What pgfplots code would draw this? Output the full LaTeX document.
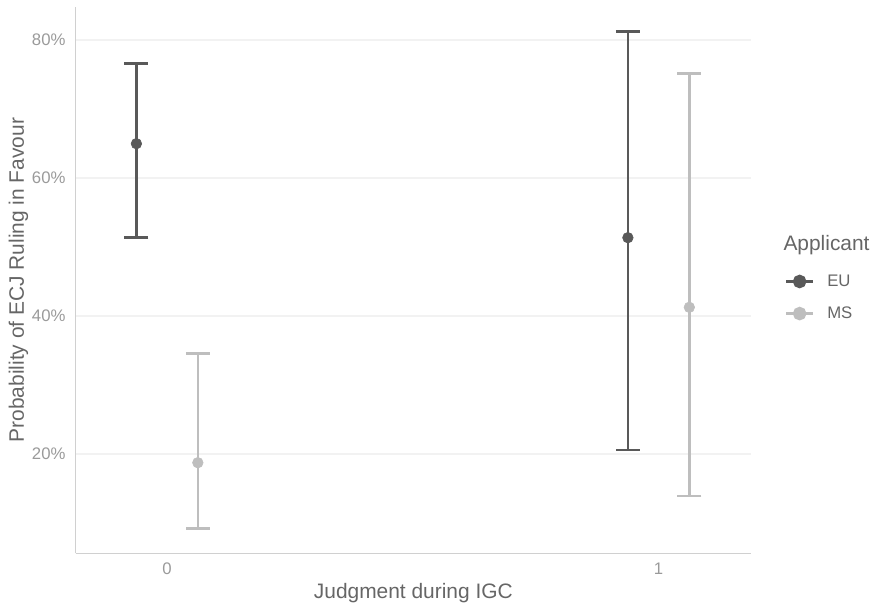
\documentclass[border=0pt]{standalone}
\usepackage{pgfplots}
\pgfplotsset{compat=1.18}
\usepackage{fontspec}
\setmainfont{Liberation Sans}
\definecolor{eucol}{HTML}{595959}
\definecolor{mscol}{HTML}{BEBEBE}
\definecolor{tickcol}{HTML}{9A9A9A}
\definecolor{titlecol}{HTML}{666666}
\definecolor{gridcol}{HTML}{F2F2F2}
\definecolor{axiscol}{HTML}{D0D0D0}
\begin{document}
\begin{tikzpicture}
\useasboundingbox (-75.7bp,-52.7bp) rectangle (798.3bp,553.3bp);
\begin{axis}[
  at={(0,0)}, anchor=south west, scale only axis,
  width=675.3bp, height=546.3bp,
  xmin=-0.186, xmax=1.188, ymin=5.61, ymax=84.78,
  axis x line*=bottom, axis y line*=left,
  axis line style={draw=axiscol, line width=1.2bp},
  major tick length=0pt,
  xtick={0,1}, xticklabels={0,1},
  ytick={20,40,60,80}, yticklabels={20\%,40\%,60\%,80\%},
  ymajorgrids, grid style={draw=gridcol, line width=1.1bp},
  tick label style={font=\fontsize{16.8}{20}\selectfont, text=tickcol, inner sep=0pt},
  yticklabel style={anchor=east, xshift=-10bp},
  xticklabel style={anchor=north, yshift=-9.7bp},
  legend style={draw=none, fill=none, inner sep=0pt, outer sep=0pt,
    at={(1.05034,0.510)}, anchor=north west,
    font=\fontsize{16.8}{20}\selectfont, text=titlecol,
    nodes={inner sep=0pt}, column sep=13bp, row sep=18.5bp},
  legend cell align=left,
]
\addplot[only marks, mark=*, mark size=5.3bp, color=eucol, line width=2.6bp,
  mark options={line width=0.6bp},
  legend image code/.code={\draw[eucol, line width=2.6bp] (0bp,0bp)--(26.7bp,0bp); \fill[eucol] (13.35bp,0bp) circle[radius=5.5bp];},
  error bars/.cd, y dir=both, y explicit,
  error bar style={line width=2.6bp, color=eucol},
  error mark options={rotate=90, line width=2.6bp, mark size=12bp, color=eucol}]
  coordinates {
  (-0.0625,64.97) += (0,11.60) -= (0,13.56)
  (0.9375,51.35) += (0,29.85) -= (0,30.78)
  };
\addlegendentry{EU}
\addplot[only marks, mark=*, mark size=5.3bp, color=mscol, line width=2.6bp,
  mark options={line width=0.6bp},
  legend image code/.code={\draw[mscol, line width=2.6bp] (0bp,0bp)--(26.7bp,0bp); \fill[mscol] (13.35bp,0bp) circle[radius=5.5bp];},
  error bars/.cd, y dir=both, y explicit,
  error bar style={line width=2.6bp, color=mscol},
  error mark options={rotate=90, line width=2.6bp, mark size=12bp, color=mscol}]
  coordinates {
  (0.0625,18.74) += (0,15.85) -= (0,9.57)
  (1.0625,41.26) += (0,33.91) -= (0,27.35)
  };
\addlegendentry{MS}
\end{axis}
\node[anchor=base, inner sep=0pt, text=titlecol, font=\fontsize{21}{25}\selectfont] at (337.65bp,-44.7bp) {Judgment during IGC};
\node[anchor=base, rotate=90, inner sep=0pt, text=titlecol, font=\fontsize{21}{25}\selectfont] at (-51.7bp,273.15bp) {Probability of ECJ Ruling in Favour};
\node[anchor=base west, inner sep=0pt, text=titlecol, font=\fontsize{21}{25}\selectfont] at (707.6bp,302.6bp) {Applicant};
\end{tikzpicture}
\end{document}
